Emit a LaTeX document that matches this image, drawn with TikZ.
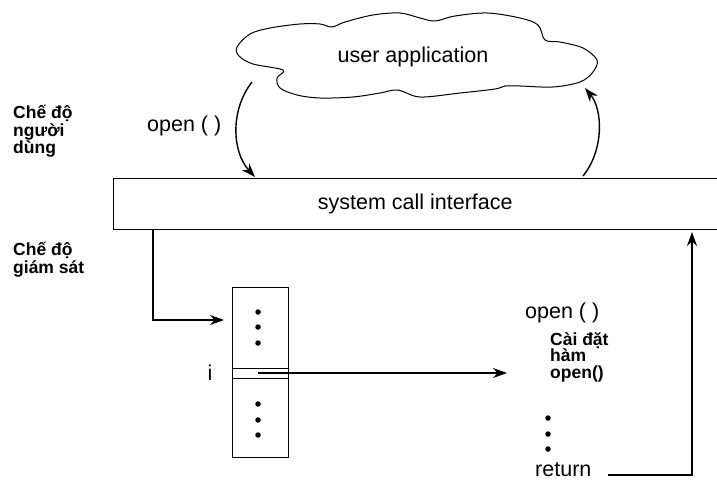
\documentclass[tikz,border=0pt]{standalone}
\usepackage{fontspec}
\setmainfont{Liberation Sans}
\usetikzlibrary{arrows.meta}
\begin{document}
\begin{tikzpicture}[x=1pt,y=-1pt,
  reg/.style={font=\fontsize{21.5}{24}\selectfont, inner sep=0pt},
  bld/.style={font=\fontsize{17.5}{17.5}\bfseries\selectfont, inner sep=0pt, align=left},
  ln/.style={line width=1pt},
  arr/.style={line width=1.4pt, -{Stealth[length=14pt,width=10pt]}},
  dotn/.style={circle, fill, inner sep=0pt, minimum size=5.5pt}]
\useasboundingbox (0,0) rectangle (717,481);
\fill[white] (0,0) rectangle (717,481);
% cloud
\draw[ln] plot[smooth cycle, tension=0.55] coordinates {
 (237,47) (250,34) (270,28) (300,24) (320,24) (332,27) (345,22) (373,15) (400,13)
 (420,18) (435,21) (455,16) (487,13) (520,18) (538,25) (545,40) (560,42) (583,48)
 (597,60) (593,72) (580,82) (553,87) (520,86) (505,86) (495,89) (460,93) (420,97)
 (398,90) (380,93) (353,97) (320,98) (297,95) (280,88) (277,78) (283,70) (253,64) (239,56)};
\node[reg] (app) at (413,57) {user application};
% mode labels (base = baseline of last line)
\node[bld, anchor=base west] (umode) at (13,154) {Chế độ\\người\\dùng};
\node[bld, anchor=base west] (kmode) at (13,273) {Chế độ\\giám sát};
% system call interface
\node[reg, minimum width=604pt, minimum height=50pt, anchor=north west] (sci) at (113,179) {system call interface};
\draw[ln] (sci.north east) -- (sci.north west) -- (sci.south west) -- (sci.south east);
% call / return arrows
\node[reg, anchor=base west] (op1) at (147,132) {open ( )};
\coordinate (ua1) at (252,82);
\coordinate (ua2) at (255,177);
\draw[arr] (ua1) .. controls (230,110) and (232,152) .. (ua2);
\coordinate (ub1) at (583,176);
\coordinate (ub2) at (585,88);
\draw[arr] (ub1) .. controls (604,150) and (603,110) .. (ub2);
% table
\node[draw, ln, minimum width=56pt, minimum height=170pt, anchor=north west, inner sep=0pt] (tbl) at (232,287) {};
\draw[ln] (232,368) -- (288,368);
\draw[ln] (232,378) -- (288,378);
\foreach \yy in {312,327,343,404,420,435} \node[dotn] at (258,\yy) {};
\node[reg, anchor=base] (idx) at (210,380) {i};
\coordinate (s1) at (153,229);
\coordinate (t1) at (224,320);
\draw[arr] (s1) |- (t1);
\coordinate (r0) at (258,373);
\coordinate (r1) at (507,373);
\draw[line width=2.8pt] (r0) -- (290,373);
\draw[arr] (r0) -- (r1);
% implementation
\node[reg, anchor=base west] (op2) at (525,318) {open ( )};
\node[bld, anchor=base west, font=\fontsize{17.5}{16.5}\bfseries\selectfont] (impl) at (550,378) {Cài đặt\\hàm\\open()};
\foreach \yy in {418,434,449} \node[dotn] at (548,\yy) {};
\node[reg, anchor=base west, text depth=0pt] (ret) at (535,476) {return};
\coordinate (rt1) at (608,475);
\coordinate (rt2) at (692,232);
\draw[arr] (rt1) -| (rt2);
\end{tikzpicture}
\end{document}
